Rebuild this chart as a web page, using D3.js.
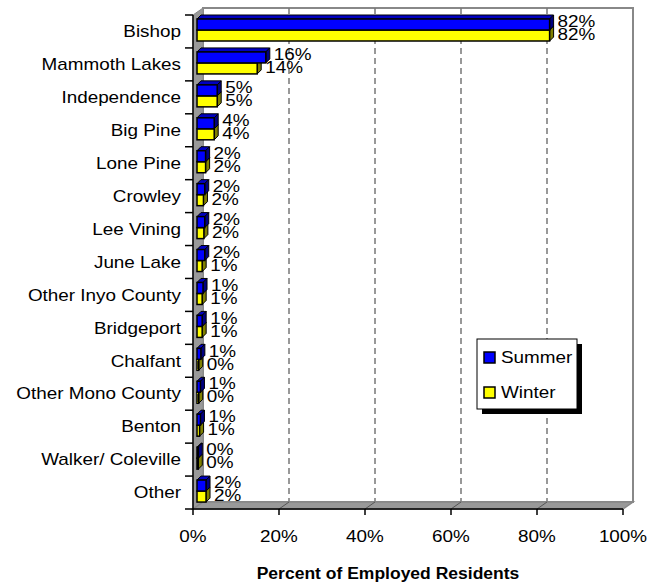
<!DOCTYPE html>
<html><head><meta charset="utf-8">
<script src="https://cdn.jsdelivr.net/npm/d3@7"></script>
<style>body{margin:0;background:#fff}svg{display:block}text{font-family:"Liberation Sans",Arial,sans-serif}</style>
</head><body><svg id="c" width="662" height="584"></svg>
<script>
const categories = ["Bishop","Mammoth Lakes","Independence","Big Pine","Lone Pine","Crowley","Lee Vining","June Lake","Other Inyo County","Bridgeport","Chalfant","Other Mono County","Benton","Walker/ Coleville","Other"];
const summer = [82,16,4.7,4,2,1.8,1.8,1.8,1.4,1.2,0.9,0.8,0.8,0.3,2.1];
const winter = [82,14,4.7,4,2,1.5,1.6,1.2,1.2,1.2,0.4,0.4,0.6,0.3,2.1];
const seriesNames = ["Summer","Winter"];
const xTicks = [0,20,40,60,80,100];
const tickLabels = ["0%","20%","40%","60%","80%","100%"];
const axisTitle = "Percent of Employed Residents";

const svg = d3.select("#c");
const SX = 1.18;
const fx = d3.scaleLinear().domain([0,100]).range([193,623]);
const bx = d3.scaleLinear().domain([0,100]).range([197,627]);
const y = d3.scaleBand().domain(categories).range([15,509]);
const WD = {dx:10, dy:-7};
const BD = {dx:4, dy:-4};
const yTop = 15, yBot = 509;

// back wall
svg.append("rect").attr("x",fx(0)+WD.dx).attr("y",yTop+WD.dy).attr("width",fx(100)-fx(0)).attr("height",yBot-yTop)
  .attr("fill","#fff").attr("stroke","#888").attr("stroke-width",2);
// grid
svg.selectAll(".grid").data(xTicks.slice(1,-1)).join("line")
  .attr("x1",d=>fx(d)+WD.dx).attr("x2",d=>fx(d)+WD.dx).attr("y1",yTop+WD.dy).attr("y2",yBot+WD.dy)
  .attr("stroke","#777").attr("stroke-width",1.5).attr("stroke-dasharray","6,4");
// left wall
svg.append("polygon").attr("points",[[fx(0),yTop],[fx(0)+WD.dx,yTop+WD.dy],[fx(0)+WD.dx,yBot+WD.dy],[fx(0),yBot]].join(" "))
  .attr("fill","#999").attr("stroke","#888").attr("stroke-width",1);
// floor
svg.append("polygon").attr("points",[[fx(0),yBot],[fx(100),yBot],[fx(100)+WD.dx,yBot+WD.dy],[fx(0)+WD.dx,yBot+WD.dy]].join(" "))
  .attr("fill","#999").attr("stroke","#888").attr("stroke-width",1.5);
svg.selectAll(".fgrid").data(xTicks.slice(1,-1)).join("line")
  .attr("x1",d=>fx(d)).attr("x2",d=>fx(d)+WD.dx).attr("y1",yBot).attr("y2",yBot+WD.dy)
  .attr("stroke","#555").attr("stroke-width",1);

// bars
function bar(g, x0, x1, y0, y1, front, topC, side){
  g.append("polygon").attr("points",[[x0,y0],[x0+BD.dx,y0+BD.dy],[x1+BD.dx,y0+BD.dy],[x1,y0]].join(" "))
    .attr("fill",topC).attr("stroke","#000").attr("stroke-width",1);
  g.append("polygon").attr("points",[[x1,y0],[x1+BD.dx,y0+BD.dy],[x1+BD.dx,y1+BD.dy],[x1,y1]].join(" "))
    .attr("fill",side).attr("stroke","#000").attr("stroke-width",1);
  g.append("rect").attr("x",x0).attr("y",y0).attr("width",x1-x0).attr("height",y1-y0)
    .attr("fill",front).attr("stroke","#000").attr("stroke-width",1.5);
}
const bars = svg.append("g");
categories.forEach((c,i)=>{
  const t = y(c);
  bar(bars, bx(0), bx(winter[i]), t+15, t+26, "#ffff00", "#c8c800", "#808000");
  bar(bars, bx(0), bx(summer[i]), t+4, t+15, "#0000ff", "#0000c0", "#000080");
});

// axes
svg.append("line").attr("x1",fx(0)).attr("x2",fx(100)).attr("y1",yBot).attr("y2",yBot).attr("stroke","#000").attr("stroke-width",1.5);
svg.append("line").attr("x1",fx(0)).attr("x2",fx(0)).attr("y1",yTop).attr("y2",yBot).attr("stroke","#000").attr("stroke-width",1.5);
svg.selectAll(".xt").data(xTicks).join("line").attr("x1",d=>fx(d)).attr("x2",d=>fx(d)).attr("y1",yBot).attr("y2",yBot+6).attr("stroke","#000").attr("stroke-width",1.5);
const bounds = categories.map(c=>y(c)).concat([yBot]);
svg.selectAll(".yt").data(bounds).join("line").attr("x1",fx(0)-8).attr("x2",fx(0)).attr("y1",d=>d).attr("y2",d=>d).attr("stroke","#000").attr("stroke-width",1.5);

function txt(x,yy,s,anchor,size,weight,sx){
  return svg.append("text").attr("transform",`translate(${x},${yy}) scale(${sx||SX},1)`)
    .attr("text-anchor",anchor).attr("font-size",size).attr("font-weight",weight||"normal").attr("fill","#000").text(s);
}
categories.forEach(c=>txt(181, y(c)+y.bandwidth()/2+5.7, c, "end", 16));
xTicks.forEach((d,i)=>txt(fx(d), 541.5, tickLabels[i], "middle", 16));
txt(388, 579, axisTitle, "middle", 17, "bold", 1.03);

// value labels
const fmt = v => d3.format(".0f")(v)+"%";
categories.forEach((c,i)=>{
  const t = y(c);
  txt(bx(summer[i])+BD.dx+4, t+9.5-3+5.7, fmt(summer[i]), "start", 16);
  txt(bx(winter[i])+BD.dx+4, t+20.5-1+5.7, fmt(winter[i]), "start", 16);
});

// legend
svg.append("rect").attr("x",482).attr("y",344).attr("width",100).attr("height",70).attr("fill","#000");
svg.append("rect").attr("x",477).attr("y",339).attr("width",100).attr("height",70).attr("fill","#fff").attr("stroke","#000").attr("stroke-width",1);
const legColors = ["#0000ff","#ffff00"];
seriesNames.forEach((n,i)=>{
  const cy = 357.5 + i*35;
  svg.append("rect").attr("x",484).attr("y",cy-5.5).attr("width",11).attr("height",11).attr("fill",legColors[i]).attr("stroke","#000").attr("stroke-width",1.5);
  txt(501, cy+5.7, n, "start", 16);
});
</script></body></html>
